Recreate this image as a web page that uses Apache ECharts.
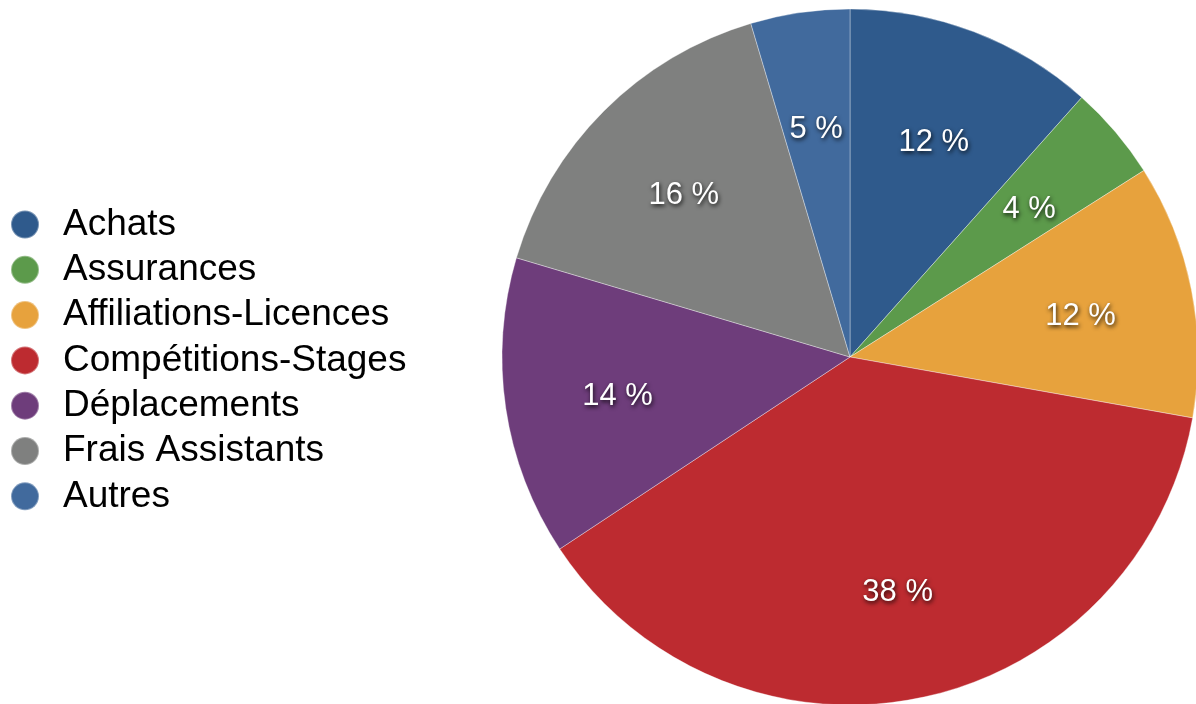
<!DOCTYPE html>
<html>
<head>
<meta charset="utf-8">
<script src="https://cdn.jsdelivr.net/npm/echarts@6/dist/echarts.min.js"></script>
<style>
html,body{margin:0;padding:0;background:#fff;}
#chart{width:1196px;height:704px;}
</style>
</head>
<body>
<div id="chart"></div>
<script>
const categories = ['Achats','Assurances','Affiliations-Licences','Compétitions-Stages','Déplacements','Frais Assistants','Autres'];
const values = [11.6, 4.4, 11.8, 37.9, 13.9, 15.8, 4.6];
const colors = ['#2F5A8C','#5C9A4B','#E7A23D','#BD2B30','#6E3D7B','#7F807F','#416A9D'];

const data = categories.map((n,i)=>({name:n, value:values[i], itemStyle:{color:colors[i]}}));

const chart = echarts.init(document.getElementById('chart'));
chart.setOption({
  animation:false,
  color: colors,
  legend:{
    orient:'vertical',
    left:5,
    top:201,
    icon:'circle',
    itemWidth:28,
    itemHeight:28,
    itemGap:8.3,
    textStyle:{fontFamily:'Liberation Sans, Arial, sans-serif', fontSize:37, color:'#000', padding:[0,0,0,19]},
    data: categories
  },
  series:[
    {
      type:'pie',
      center:[850,357],
      radius:[0,348],
      startAngle:90,
      clockwise:true,
      avoidLabelOverlap:false,
      label:{show:false},
      labelLine:{show:false},
      itemStyle:{borderColor:'rgba(255,255,255,0.35)', borderWidth:1},
      emphasis:{disabled:true},
      data: data
    },
    {
      type:'pie',
      center:[850,357],
      radius:[116,348],
      startAngle:90,
      clockwise:true,
      silent:true,
      avoidLabelOverlap:false,
      itemStyle:{color:'rgba(0,0,0,0)', borderWidth:0},
      labelLine:{show:false},
      label:{
        show:true,
        position:'inside',
        offset:[0,5],
        formatter:(p)=>Math.round(p.percent)+' %',
        fontFamily:'Liberation Sans, Arial, sans-serif',
        fontSize:31,
        color:'#fff',
        textShadowColor:'rgba(0,0,0,0.85)',
        textShadowBlur:4,
        textShadowOffsetX:1,
        textShadowOffsetY:2
      },
      emphasis:{disabled:true},
      data: categories.map((n,i)=>({name:n, value:values[i]}))
    }
  ]
});
</script>
</body>
</html>
